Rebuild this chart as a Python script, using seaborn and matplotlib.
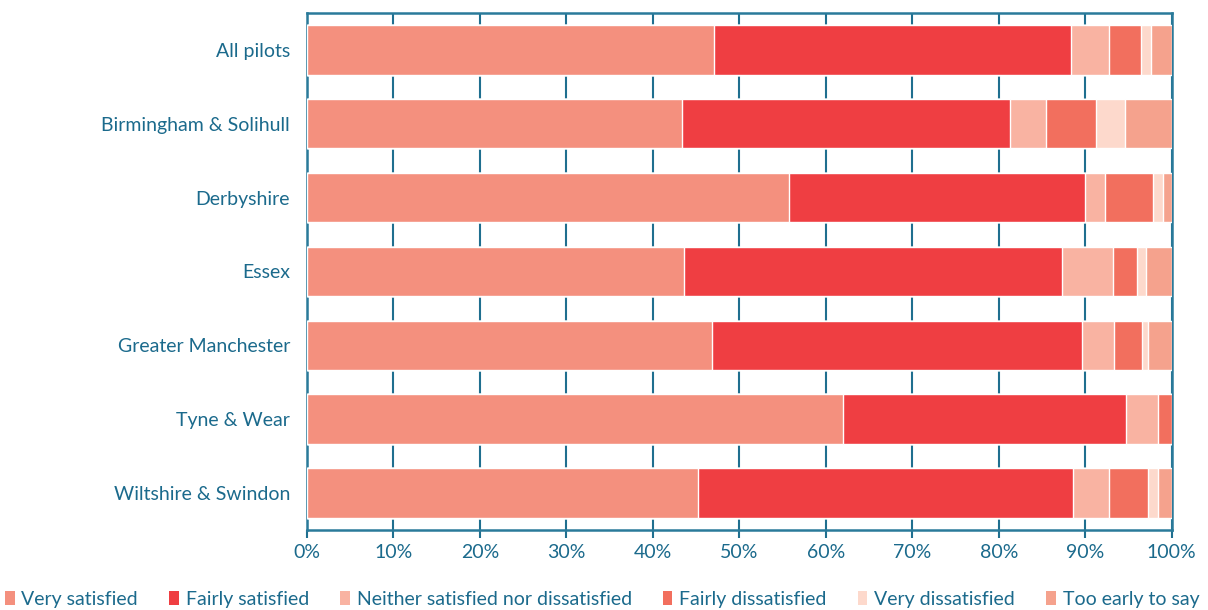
import numpy as np
import pandas as pd
import matplotlib
matplotlib.use("Agg")
import matplotlib.pyplot as plt
import seaborn as sns
from matplotlib.patches import Patch

# Data (percent of respondents)
regions = ["All pilots", "Birmingham & Solihull", "Derbyshire", "Essex",
           "Greater Manchester", "Tyne & Wear", "Wiltshire & Swindon"]
categories = ["Very satisfied", "Fairly satisfied", "Neither satisfied nor dissatisfied",
              "Fairly dissatisfied", "Very dissatisfied", "Too early to say"]
very_satisfied = [47.1, 43.4, 55.7, 43.6, 46.8, 62.0, 45.2]
fairly_satisfied = [41.3, 37.9, 34.3, 43.7, 42.8, 32.7, 43.4]
neither = [4.3, 4.2, 2.3, 5.9, 3.7, 3.7, 4.2]
fairly_dissatisfied = [3.7, 5.7, 5.5, 2.8, 3.3, 1.6, 4.4]
very_dissatisfied = [1.2, 3.4, 1.2, 1.0, 0.7, 0.0, 1.2]
too_early = [2.4, 5.4, 1.0, 3.0, 2.7, 0.0, 1.6]

colors = ["#F4907E", "#EF3E42", "#F9B3A2", "#F26F5E", "#FDD9CC", "#F5A28D"]
text_col = "#1B6A8C"
grid_col = "#1F6F8F"

df = pd.DataFrame({"region": regions, "Very satisfied": very_satisfied,
                   "Fairly satisfied": fairly_satisfied,
                   "Neither satisfied nor dissatisfied": neither,
                   "Fairly dissatisfied": fairly_dissatisfied,
                   "Very dissatisfied": very_dissatisfied,
                   "Too early to say": too_early})
cum = df[categories].cumsum(axis=1)

sns.set_style("white")
plt.rcParams['font.family'] = ['Lato', 'DejaVu Sans']

fig = plt.figure(figsize=(12.08, 6.10), dpi=100)
ax = fig.add_axes([0.254, 0.131, 0.716, 0.848])

# stacked bars: draw the cumulative totals from the last segment back to the first
for cat, col in reversed(list(zip(categories, colors))):
    sns.barplot(x=cum[cat], y=df["region"], color=col, orient="h", width=0.67,
                ax=ax, zorder=3, saturation=1)

ax.set_xlim(0, 100)
ax.set_ylim(6.5, -0.5)
ax.set_xticks(np.arange(0, 101, 10))
ax.set_xticklabels([f"{v}%" for v in range(0, 101, 10)])
ax.xaxis.grid(True, color=grid_col, linewidth=1.5, zorder=0)
ax.set_axisbelow(True)
ax.set_xlabel("")
ax.set_ylabel("")
ax.tick_params(axis="x", colors=grid_col, labelcolor=text_col, labelsize=14,
               length=6, width=1.5, direction="out", bottom=True, pad=4)
ax.tick_params(axis="y", length=0, labelcolor=text_col, labelsize=14, pad=12)
for s in ax.spines.values():
    s.set_color("#2A7A9A")
    s.set_linewidth(1.8)

handles = [Patch(facecolor=c, edgecolor="none", label=l) for c, l in zip(colors, categories)]
leg = fig.legend(handles=handles, loc="center left", bbox_to_anchor=(0.004, 0.018), ncol=6,
                 frameon=False, fontsize=14, handlelength=0.5, handleheight=0.7,
                 handletextpad=0.35, columnspacing=1.6, borderaxespad=0, borderpad=0)
for t in leg.get_texts():
    t.set_color(text_col)

fig.savefig("out.png", dpi=100)
